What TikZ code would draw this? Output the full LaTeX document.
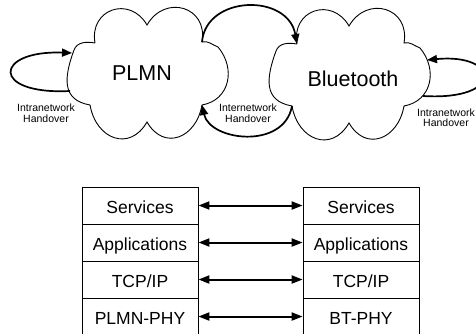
\documentclass[tikz,border=0pt]{standalone}
\usepackage{fontspec}
\setmainfont{Liberation Sans}
\usetikzlibrary{arrows.meta}
\begin{document}
\begin{tikzpicture}[x=1pt,y=1pt,
  cloudline/.style={line width=0.9pt},
  conn/.style={line width=1.7pt, -{Triangle[length=10pt,width=8pt]}},
  dconn/.style={line width=2pt, {Triangle[length=11pt,width=8pt]}-{Triangle[length=11pt,width=8pt]}},
  netlabel/.style={font=\fontsize{21.5}{24}\selectfont, inner sep=0pt},
  hlabel/.style={font=\fontsize{10.5}{10.5}\selectfont, align=center, inner sep=0pt},
  layer/.style={draw, line width=0.8pt, minimum width=116pt, minimum height=37pt,
    inner sep=0pt, text height=15pt, text depth=0pt, font=\fontsize{17.5}{20}\selectfont},
  netcloud/.pic={
    \draw[cloudline] (-52,30) to[out=100,in=120,looseness=1.6] (0,48)
      to[out=60,in=80,looseness=1.6] (55,31)
      to[out=15,in=160] (71,26)
      to[out=-50,in=10,looseness=1.2] (55,-32)
      to[out=-100,in=-60,looseness=1.5] (0,-49)
      to[out=-120,in=-80,looseness=1.5] (-57,-32)
      to[out=170,in=-110,looseness=1.3] (-73,23)
      to[out=70,in=170] (-52,30);
    \coordinate (-n1) at (-52,30);
    \coordinate (-n3) at (55,31);
    \coordinate (-n4) at (55,-32);
    \coordinate (-n6) at (-57,-32);
    \coordinate (-lo) at (-77,-18);
    \coordinate (-li) at (-75,20);
    \coordinate (-ro) at (74,-22);
    \coordinate (-ri) at (78,14);
  }
]
\useasboundingbox (0,0) rectangle (476,333);

\pic (plmn) at (147,260) {netcloud};
\pic (bt) at (349,259) {netcloud};

\node[netlabel] (plmntext) at (142,259.5) {PLMN};
\node[netlabel] (bttext) at (353,254) {Bluetooth};

% intranetwork loops
\draw[conn] (plmn-lo) .. controls (-10,238) and (-6,283) .. (plmn-li);
\draw[conn] (bt-ro) .. controls (505,232) and (500,280) .. (bt-ri);

% internetwork arcs
\draw[conn] (plmn-n3) .. controls (206,338) and (288,340) .. (bt-n1);
\draw[conn] (bt-n6) .. controls (284,183) and (210,192) .. (plmn-n4);

\node[hlabel] (lintra) at (46,220) {Intranetwork\\Handover};
\node[hlabel] (minter) at (248,220) {Internetwork\\Handover};
\node[hlabel] (rintra) at (446,215.5) {Intranetwork\\Handover};

% protocol stacks
\node[layer] (ls1) at (140,127.5) {Services};
\node[layer] (ls2) at (140,90.5) {Applications};
\node[layer] (ls3) at (140,53.5) {TCP/IP};
\node[layer] (ls4) at (140,16.5) {PLMN-PHY};
\node[layer] (rs1) at (361,127.5) {Services};
\node[layer] (rs2) at (361,90.5) {Applications};
\node[layer] (rs3) at (361,53.5) {TCP/IP};
\node[layer] (rs4) at (361,16.5) {BT-PHY};

\foreach \i in {1,2,3,4}
  \draw[dconn] (ls\i.east) -- (rs\i.west);
\end{tikzpicture}
\end{document}
